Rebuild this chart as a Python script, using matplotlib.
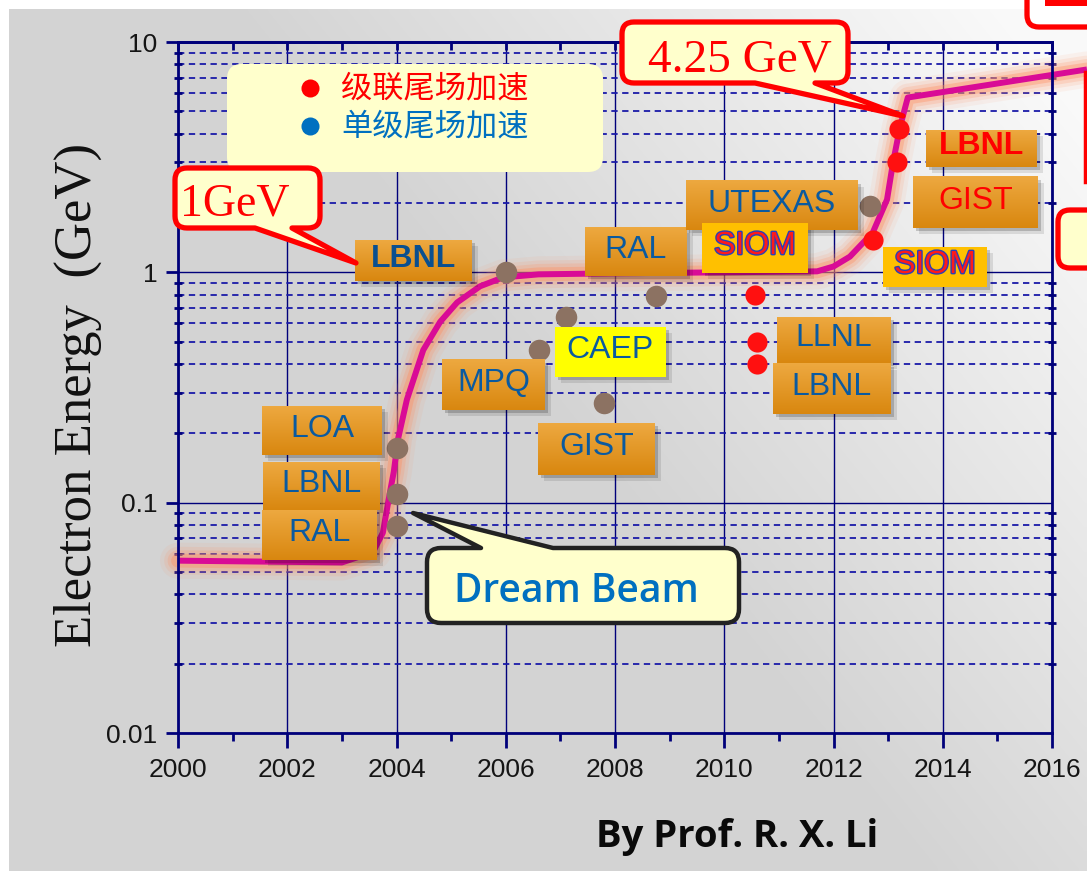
import numpy as np
import matplotlib.pyplot as plt
import matplotlib.ticker as mticker
import matplotlib.patheffects as pe
from matplotlib.path import Path
from matplotlib.patches import PathPatch, Rectangle

# ---- data ----
curve_year = [2000.0, 2003.0, 2003.57, 2003.75, 2003.88, 2003.95, 2004.03, 2004.19,
              2004.49, 2004.8, 2005.11, 2005.53, 2005.95, 2006.6, 2008.0, 2010.0,
              2011.7, 2012.0, 2012.3, 2012.72, 2012.98, 2013.09, 2013.22, 2013.36, 2016.64]
curve_gev = [0.056, 0.055, 0.061, 0.074, 0.111, 0.136, 0.19, 0.28,
             0.46, 0.61, 0.74, 0.87, 0.95, 0.98, 0.99, 1.0,
             1.01, 1.06, 1.17, 1.49, 2.07, 3.0, 4.3, 5.74, 7.6]

single_year = [2004.0, 2004.0, 2004.0, 2006.0, 2006.6, 2007.1, 2007.8, 2008.75, 2012.67]
single_gev = [0.172, 0.109, 0.079, 1.0, 0.46, 0.64, 0.27, 0.79, 1.95]

cascade_year = [2010.56, 2010.6, 2010.6, 2012.72, 2013.16, 2013.2]
cascade_gev = [0.80, 0.50, 0.40, 1.38, 3.0, 4.2]

year_ticks = list(range(2000, 2017, 2))
energy_ticks = [0.01, 0.1, 1, 10]
legend_labels = ['级联尾场加速', '单级尾场加速']

W, H = 1087, 871
fig = plt.figure(figsize=(W / 100, H / 100), dpi=100, facecolor='white')

# background: grey, lighter towards the upper right
bg = fig.add_axes([0, 0, 1, 1], zorder=-5)
gy, gx = np.mgrid[0:1:200j, 0:1:250j]
s = np.clip(1.4 * gx - 0.3 - 0.9 * gy, 0, 1)
lum = 0.83 + 0.15 * s
bg.imshow(np.dstack([lum, lum, lum]), extent=(9, W, H, 10), aspect='auto',
          interpolation='bilinear')
bg.set_xlim(0, W)
bg.set_ylim(H, 0)
bg.axis('off')

# main axes
ax = fig.add_axes([178 / W, 138 / H, 874 / W, 691 / H], zorder=1)
ax.patch.set_alpha(0)
ax.set_yscale('log')
ax.set_xlim(2000, 2016)
ax.set_ylim(0.01, 10)

navy = '#00007a'
for sp in ax.spines.values():
    sp.set_color(navy)
    sp.set_linewidth(2)

ax.set_xticks(year_ticks)
ax.set_xticks(range(2001, 2016, 2), minor=True)
ax.set_yticks(energy_ticks)
ax.yaxis.set_major_formatter(mticker.FuncFormatter(lambda v, _: f'{v:g}'))
ax.yaxis.set_minor_formatter(mticker.NullFormatter())
ax.xaxis.set_minor_formatter(mticker.NullFormatter())

ax.tick_params(axis='x', which='major', direction='out', length=11, width=2,
               color=navy, pad=7, labelsize=19)
ax.tick_params(axis='x', which='minor', direction='out', length=6, width=2, color=navy)
ax.tick_params(axis='y', which='major', direction='out', length=9, width=2,
               color=navy, pad=6, labelsize=19)
ax.tick_params(axis='y', which='minor', direction='inout', length=6, width=2,
               color=navy, right=True)
for lab in ax.get_xticklabels() + ax.get_yticklabels():
    lab.set_family('Liberation Sans')
    lab.set_color('#151515')

top = ax.secondary_xaxis('top')
top.set_xticks(year_ticks)
top.set_xticks(range(2001, 2016, 2), minor=True)
top.tick_params(which='both', direction='in', length=6, width=2, color=navy,
                labeltop=False)
top.spines['top'].set_color(navy)
top.spines['top'].set_linewidth(2)

ax.grid(True, which='major', color=navy, lw=1.0, ls='-')
ax.grid(True, which='minor', axis='y', color='#1a1aa8', lw=1.3, ls=(0, (3.5, 2.5)))

# glowing trend curve
for lw, a in [(26, 0.08), (20, 0.13), (15, 0.2), (10, 0.35)]:
    ax.plot(curve_year, curve_gev, color='#ff8c5c', lw=lw, alpha=a,
            solid_capstyle='round', solid_joinstyle='round', clip_on=False)
ax.plot(curve_year, curve_gev, color='#d90b96', lw=4.3,
        solid_capstyle='butt', solid_joinstyle='round', clip_on=False)

ax.plot(single_year, single_gev, 'o', ms=15.5, color='#8c7262', mec='none', zorder=5)
ax.plot(cascade_year, cascade_gev, 'o', ms=14.5, color='#ff1010', mec='none', zorder=5)

# overlay in pixel coordinates for the annotations
ov = fig.add_axes([0, 0, 1, 1], zorder=5)
ov.patch.set_alpha(0)
ov.axis('off')


def callout_path(x0, y0, x1, y1, r, side=None, b0=0, b1=0, tip=(0, 0)):
    Mv, Ln, Cv = Path.MOVETO, Path.LINETO, Path.CURVE3
    v = [(x0 + r, y0)]
    c = [Mv]
    if side == 'top':
        v += [(b0, y0), tip, (b1, y0)]
        c += [Ln] * 3
    v += [(x1 - r, y0), (x1, y0), (x1, y0 + r)]
    c += [Ln, Cv, Cv]
    v += [(x1, y1 - r), (x1, y1), (x1 - r, y1)]
    c += [Ln, Cv, Cv]
    if side == 'bottom':
        v += [(b1, y1), tip, (b0, y1)]
        c += [Ln] * 3
    v += [(x0 + r, y1), (x0, y1), (x0, y1 - r)]
    c += [Ln, Cv, Cv]
    v += [(x0, y0 + r), (x0, y0), (x0 + r, y0)]
    c += [Ln, Cv, Cv]
    v.append((x0 + r, y0))
    c.append(Path.CLOSEPOLY)
    return Path(v, c)


cream = '#ffffcc'

# legend
ov.add_patch(PathPatch(callout_path(227, 64, 603, 172, 15), fc=cream, ec='none'))
ov.plot([310], [88], 'o', ms=13, color='#ff0000', mec='none')
ov.plot([310], [126], 'o', ms=13, color='#0070c0', mec='none')
ov.text(341, 88, legend_labels[0], color='#ff0000', fontsize=22.5,
        family=['Noto Sans CJK SC', 'DejaVu Sans'], va='center', ha='left')
ov.text(341, 126, legend_labels[1], color='#0070c0', fontsize=22.5,
        family=['Noto Sans CJK SC', 'DejaVu Sans'], va='center', ha='left')

# institution boxes: text, box (x0, y0, x1, y1), fill kind, text colour, bold
boxes = [
    ('LBNL', (355, 240, 472, 281), 'orange', '#0a4f8f', True),
    ('LOA', (262, 406, 382, 455), 'orange', '#0a5aa0', False),
    ('LBNL', (263, 462, 380, 510), 'orange', '#0a5aa0', False),
    ('RAL', (262, 510, 377, 560), 'orange', '#0a5aa0', False),
    ('MPQ', (442, 360, 545, 410), 'orange', '#0a5aa0', False),
    ('CAEP', (555, 327, 666, 377), 'yellow', '#0a5aa0', False),
    ('GIST', (538, 423, 655, 475), 'orange', '#0a5aa0', False),
    ('RAL', (585, 227, 687, 276), 'orange', '#0a5aa0', False),
    ('UTEXAS', (686, 181, 858, 230), 'orange', '#0a5aa0', False),
    ('SIOM', (702, 223, 808, 273), 'gold', 'siom', False),
    ('LLNL', (777, 317, 891, 363), 'orange', '#0a5aa0', False),
    ('LBNL', (773, 364, 891, 414), 'orange', '#0a5aa0', False),
    ('LBNL', (926, 130, 1037, 167), 'orange', '#ff0000', True),
    ('GIST', (913, 177, 1038, 228), 'orange', '#ff0000', False),
    ('SIOM', (883, 247, 987, 287), 'gold', 'siom', False),
]
grad = np.linspace(0, 1, 40)[:, None]
top_c = np.array([0.93, 0.66, 0.25])
bot_c = np.array([0.85, 0.53, 0.06])
orange_img = (top_c[None, None, :] * (1 - grad[..., None]) +
              bot_c[None, None, :] * grad[..., None])
for txt, (x0, y0, x1, y1), kind, tcol, bold in boxes:
    for off, a in [(6, 0.10), (3, 0.18)]:
        ov.add_patch(Rectangle((x0 + off, y0 + off), x1 - x0, y1 - y0,
                               fc=(0, 0, 0, a), ec='none'))
    if kind == 'orange':
        ov.imshow(orange_img, extent=(x0, x1, y1, y0), aspect='auto',
                  interpolation='bilinear', zorder=2)
    else:
        fc = '#ffff00' if kind == 'yellow' else '#ffc000'
        ov.add_patch(Rectangle((x0, y0), x1 - x0, y1 - y0, fc=fc, ec='none', zorder=2))
    cx, cy = (x0 + x1) / 2, (y0 + y1) / 2 - 2
    if tcol == 'siom':
        ov.text(cx, cy, txt, color='#ff1a1a', fontsize=23, family='Liberation Sans',
                ha='center', va='center', zorder=3,
                path_effects=[pe.Stroke(linewidth=2.0, foreground='#2a3fb8'), pe.Normal()])
    else:
        ov.text(cx, cy, txt, color=tcol, fontsize=23, family='Liberation Sans',
                weight='bold' if bold else 'normal', ha='center', va='center', zorder=3)

# callouts
ov.add_patch(PathPatch(callout_path(175, 168, 320, 228, 12, 'bottom', 255, 292, (356, 263)),
                       fc=cream, ec='#ff0000', lw=3.8, joinstyle='round', zorder=4))
ov.text(235, 215, '1GeV', color='#ff0000', fontsize=33, family='Liberation Serif',
        ha='center', va='baseline', zorder=5)

ov.add_patch(PathPatch(callout_path(622, 22, 848, 83, 12, 'bottom', 755, 815, (903, 116)),
                       fc=cream, ec='#ff0000', lw=3.8, joinstyle='round', zorder=4))
ov.text(740, 72, '4.25 GeV', color='#ff0000', fontsize=34, family='Liberation Serif',
        ha='center', va='baseline', zorder=5)

ov.add_patch(PathPatch(callout_path(427, 548, 739, 623, 14, 'top', 481, 553, (413, 513)),
                       fc=cream, ec='#222222', lw=3.2, joinstyle='round', zorder=4))
ov.text(576, 602, 'Dream Beam', color='#0070c0', fontsize=28, family='Open Sans',
        weight='semibold', ha='center', va='baseline', zorder=5)

# partly visible callouts at the right edge
ov.add_patch(PathPatch(callout_path(1027, -40, 1140, 27, 12), fc='white', ec='#ff0000',
                       lw=3.8, zorder=4, clip_on=False))
ov.add_patch(Rectangle((1045, 0), 42, 6, fc='#ff0000', ec='none', zorder=5))
ov.add_patch(PathPatch(callout_path(1058, 210, 1140, 268, 12), fc=cream, ec='#ff0000',
                       lw=3.8, zorder=4))
ov.plot([1085, 1085], [72, 182], color='#ff0000', lw=2.5, zorder=4)

# axis title and credit
ov.text(78, 395, 'Electron Energy  (GeV)', rotation=90, fontsize=38,
        family='Liberation Serif', color='#111111', ha='center', va='center')
ov.text(737, 847, 'By Prof. R. X. Li', fontsize=27.5, family='Open Sans',
        weight='bold', color='#0a0a0a', ha='center', va='baseline')

ov.set_xlim(0, W)
ov.set_ylim(H, 0)

fig.savefig('out.png', dpi=100)
